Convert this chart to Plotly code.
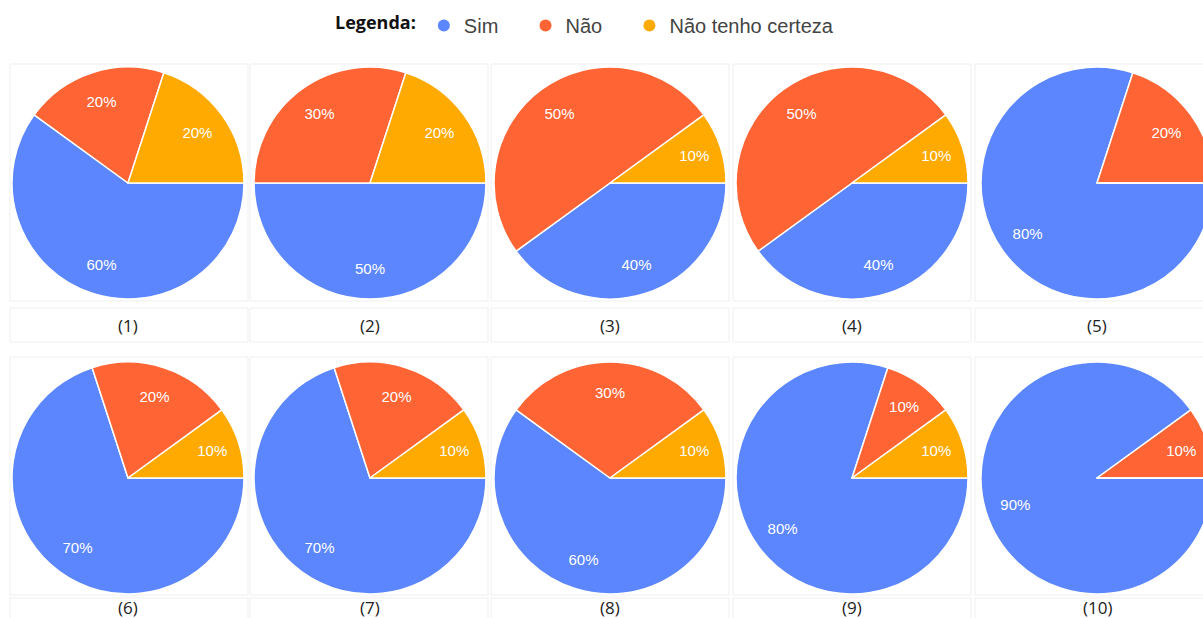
import plotly.graph_objects as go

W, H = 1216, 618   # a bit wider than the window so the right-hand pies are cropped like the reference

categories = ["Sim", "Não", "Não tenho certeza"]
colors = ["#5B86FE", "#FF6434", "#FFAA00"]

chart_labels = ["(1)", "(2)", "(3)", "(4)", "(5)", "(6)", "(7)", "(8)", "(9)", "(10)"]
sim_values = [60, 50, 40, 40, 80, 70, 70, 60, 80, 90]
nao_values = [20, 30, 50, 50, 20, 20, 20, 30, 10, 10]
incerto_values = [20, 20, 10, 10, 0, 10, 10, 10, 10, 0]

# layout (pixels)
col_cx = [128, 370, 610, 852, 1097]
row_cy = [183, 478]
R = 116
label_y = [325, 607]

fig = go.Figure()

for i in range(10):
    r, c = divmod(i, 5)
    cx, cy = col_cx[c], row_cy[r]
    vals = [sim_values[i], nao_values[i], incerto_values[i]]
    dom = dict(x=[(cx - R) / W, (cx + R) / W],
               y=[1 - (cy + R) / H, 1 - (cy - R) / H])
    # coloured pie
    fig.add_trace(go.Pie(
        labels=categories, values=vals, textinfo="none",
        sort=False, direction="clockwise", rotation=90,
        marker=dict(colors=colors, line=dict(color="white", width=1.5)),
        domain=dom, showlegend=False, hoverinfo="label+percent",
    ))
    # transparent ring on top that only carries the percentage labels
    texts = [f"{v}%" if v > 0 else "" for v in vals]
    fig.add_trace(go.Pie(
        labels=categories, values=vals, text=texts, textinfo="text",
        sort=False, direction="clockwise", rotation=90, hole=0.48,
        marker=dict(colors=["rgba(0,0,0,0)"] * 3, line=dict(width=0)),
        textposition="inside", insidetextorientation="horizontal",
        textfont=dict(family="Arial, Liberation Sans", size=15, color="white"),
        domain=dom, showlegend=False, hoverinfo="skip",
    ))
    fig.add_annotation(text=chart_labels[i], x=cx / W, y=1 - label_y[r] / H,
                       xref="paper", yref="paper", showarrow=False,
                       xanchor="center", yanchor="middle",
                       font=dict(family="Open Sans, Liberation Sans", size=17, color="#222"))

# legend via dummy scatter traces with circle markers
pad = "\u00a0" * 4
for name, col in zip(categories, colors):
    fig.add_trace(go.Scatter(x=[None], y=[None], mode="markers", name=name + pad,
                             marker=dict(symbol="circle", size=20, color=col),
                             showlegend=True, hoverinfo="skip"))

# faint frames
col_x0 = [10, 250, 491, 733, 975]
shapes = []
for r in range(2):
    for c in range(5):
        x0 = col_x0[c]; x1 = x0 + 238
        if r == 0:
            boxes = [(64, 301), (308, 342)]
        else:
            boxes = [(357, 595), (598, 630)]
        for (y0, y1) in boxes:
            shapes.append(dict(type="rect", xref="paper", yref="paper",
                               x0=x0 / W, x1=x1 / W,
                               y0=1 - y1 / H, y1=1 - y0 / H,
                               line=dict(color="#efefef", width=1), layer="below"))

fig.update_layout(
    width=W, height=H,
    margin=dict(l=0, r=0, t=0, b=0),
    paper_bgcolor="white", plot_bgcolor="white",
    xaxis=dict(visible=False), yaxis=dict(visible=False),
    shapes=shapes,
    legend=dict(orientation="h", x=333 / W, xanchor="left", y=1 - 6 / H, yanchor="top",
                title=dict(text="<b>Legenda:</b>",
                           font=dict(family="Open Sans, Liberation Sans", size=18, color="#111")),
                font=dict(family="Arial, Liberation Sans", size=20, color="#444"),
                itemsizing="constant", bgcolor="rgba(0,0,0,0)"),
)

fig.write_html("out.html", config={"displayModeBar": False},
               post_script="document.body.style.margin='0px';document.body.style.overflow='hidden';")
